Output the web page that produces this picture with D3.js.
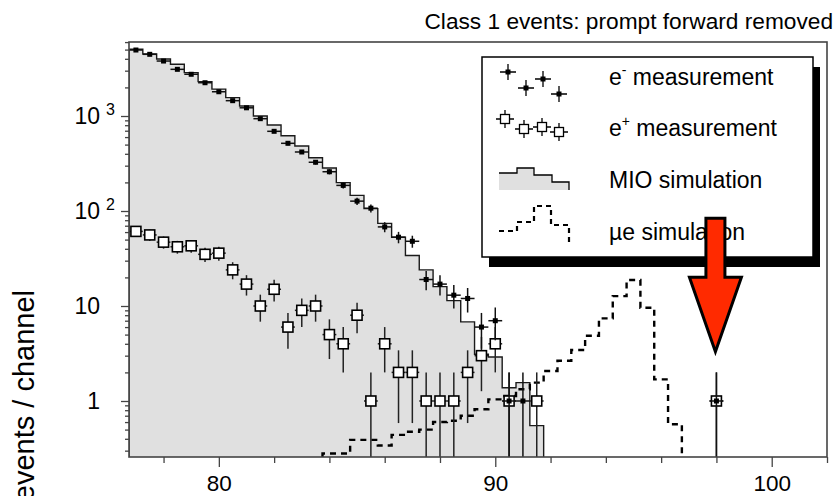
<!DOCTYPE html>
<html>
<head>
<meta charset="utf-8">
<script src="https://cdn.jsdelivr.net/npm/d3@7"></script>
<style>
  body { margin: 0; background: #fff; }
  svg { display: block; font-family: "Liberation Sans", Arial, sans-serif; }
</style>
</head>
<body>
<div id="chart"></div>
<script>
// channel centres (MeV), 0.5 MeV per channel
const eMinusE = [77.0, 77.5, 78.0, 78.5, 79.0, 79.5, 80.0, 80.5, 81.0, 81.5, 82.0, 82.5, 83.0, 83.5, 84.0,
  84.5, 85.0, 85.5, 86.0, 86.5, 87.0, 87.5, 88.0, 88.5, 89.0, 89.5, 90.0, 90.5, 91.0, 98.0]
const eMinusN = [4950, 4460, 3790, 3100, 2750, 2240, 1800, 1450, 1220, 937, 690, 516, 418, 326, 259,
  186, 127, 107, 68, 53, 48, 19, 17, 13, 12, 6, 7, 1, 1, 1]

const ePlusE = [77.0, 77.5, 78.0, 78.5, 79.0, 79.5, 80.0, 80.5, 81.0, 81.5, 82.0, 82.5, 83.0, 83.5, 84.0,
  84.5, 85.0, 85.5, 86.0, 86.5, 87.0, 87.5, 88.0, 88.5, 89.0, 89.5, 90.0, 90.5, 91.5, 98.0]
const ePlusN = [61, 56, 47, 42, 43, 35, 36, 24, 17, 10, 15, 6, 9, 10, 5,
  4, 8, 1, 4, 2, 2, 1, 1, 1, 2, 3, 4, 1, 1, 1]

const mioE = [77.0, 77.5, 78.0, 78.5, 79.0, 79.5, 80.0, 80.5, 81.0, 81.5, 82.0, 82.5, 83.0, 83.5, 84.0,
  84.5, 85.0, 85.5, 86.0, 86.5, 87.0, 87.5, 88.0, 88.5, 89.0, 89.5, 90.0, 90.5, 91.0, 91.5]
const mioN = [5050, 4500, 3980, 3500, 2860, 2300, 1920, 1560, 1275, 1000, 804, 620, 483, 364, 284,
  199, 146, 106, 74, 53, 34, 24, 16, 11.4, 6.8, 3.1, 2.9, 1.38, 1.56, 0.55]

const mueE = [84.0, 84.5, 85.0, 85.5, 86.0, 86.5, 87.0, 87.5, 88.0, 88.5, 89.0, 89.5, 90.0,
  90.5, 91.0, 91.5, 92.0, 92.5, 93.0, 93.5, 94.0, 94.5, 95.0, 95.5, 96.0, 96.5]
const mueN = [0.28, 0.28, 0.39, 0.39, 0.34, 0.44, 0.475, 0.50, 0.60, 0.62, 0.70, 0.82, 1.04,
  1.13, 1.33, 1.56, 2.07, 2.65, 3.44, 4.87, 7.4, 12.7, 18.8, 9.6, 1.69, 0.57]

const binWidth = 0.5
const xMajorTicks = [80, 90, 100]
const xMinorTicks = [78, 82, 84, 86, 88, 92, 94, 96, 98, 102]
const yMajorTicks = [1, 10, 100, 1000]
const yTickBase = ['1', '10', '10', '10']
const yTickExp = ['', '', '2', '3']
const legendLabels = [['e', '-', ' measurement'], ['e', '+', ' measurement'], ['MIO simulation', '', ''], ['\u00b5e simulation', '', '']]
const titleText = 'Class 1 events: prompt forward removed'
const yTitle = 'events / channel'
const signalE = 98.0 // channel marked by the arrow

const width = 836
const height = 496
const plot = { left: 129, right: 827, top: 42, bottom: 457 }

const svg = d3.select('#chart').append('svg')
  .attr('width', width)
  .attr('height', height)

const x = d3.scaleLinear().domain([76.75, 102]).range([plot.left, plot.right])
const y = d3.scaleLog().domain([0.2573, 6012]).range([plot.bottom, plot.top]).clamp(true)
const yMin = y.domain()[0]

svg.append('defs').append('clipPath').attr('id', 'clip')
  .append('rect')
  .attr('x', plot.left).attr('y', plot.top)
  .attr('width', plot.right - plot.left).attr('height', plot.bottom - plot.top)

// title
svg.append('text')
  .attr('x', 833).attr('y', 29)
  .attr('text-anchor', 'end')
  .attr('font-size', 22.7)
  .text(titleText)

// y title, cut at the bottom like the original
svg.append('text')
  .attr('transform', 'translate(34, 290) rotate(-90)')
  .attr('text-anchor', 'end')
  .attr('font-size', 29)
  .text(yTitle)

const g = svg.append('g').attr('clip-path', 'url(#clip)')

// step outline for contiguous channels
function stepPoints(centres, values) {
  const pts = [[centres[0] - binWidth / 2, yMin]]
  centres.forEach((c, i) => {
    pts.push([c - binWidth / 2, values[i]])
    pts.push([c + binWidth / 2, values[i]])
  })
  pts.push([centres[centres.length - 1] + binWidth / 2, yMin])
  return pts
}
const line = d3.line().x(d => x(d[0])).y(d => y(d[1]))

// MIO simulation
const mioPts = stepPoints(mioE, mioN)
g.append('path')
  .attr('d', line(mioPts) + 'Z')
  .attr('fill', '#e0e0e0')
  .attr('stroke', 'none')
g.append('path')
  .attr('d', line(mioPts))
  .attr('fill', 'none')
  .attr('stroke', '#1a1a1a')
  .attr('stroke-width', 1.4)

// mu-e simulation
g.append('path')
  .attr('d', line(stepPoints(mueE, mueN)))
  .attr('fill', 'none')
  .attr('stroke', '#000')
  .attr('stroke-width', 2.4)
  .attr('stroke-dasharray', '6,5')

// error bars
function errorBars(sel, es, ns, color) {
  const data = es.map((e, i) => ({ e, n: ns[i] }))
  sel.selectAll(null).data(data).enter().append('line')
    .attr('x1', d => x(d.e)).attr('x2', d => x(d.e))
    .attr('y1', d => y(d.n + Math.sqrt(d.n)))
    .attr('y2', d => y(Math.max(d.n - Math.sqrt(d.n), yMin)))
    .attr('stroke', color).attr('stroke-width', 1.5)
  sel.selectAll(null).data(data).enter().append('line')
    .attr('x1', d => x(d.e - binWidth / 2)).attr('x2', d => x(d.e + binWidth / 2))
    .attr('y1', d => y(d.n)).attr('y2', d => y(d.n))
    .attr('stroke', color).attr('stroke-width', 1.5)
  return data
}

const pos = errorBars(g.append('g'), ePlusE, ePlusN, '#222')
g.append('g').selectAll('rect').data(pos).enter().append('rect')
  .attr('x', d => x(d.e) - 5).attr('y', d => y(d.n) - 5)
  .attr('width', 10).attr('height', 10)
  .attr('fill', '#fff').attr('stroke', '#000').attr('stroke-width', 1.6)

const neg = errorBars(g.append('g'), eMinusE, eMinusN, '#111')
g.append('g').selectAll('rect').data(neg).enter().append('rect')
  .attr('x', d => x(d.e) - 2.5).attr('y', d => y(d.n) - 2.5)
  .attr('width', 5).attr('height', 5)
  .attr('fill', '#000')

// frame
svg.append('rect')
  .attr('x', plot.left).attr('y', plot.top)
  .attr('width', plot.right - plot.left).attr('height', plot.bottom - plot.top)
  .attr('fill', 'none').attr('stroke', '#444').attr('stroke-width', 1.6)

// x axis
svg.append('g')
  .attr('transform', `translate(0, ${plot.bottom})`)
  .call(d3.axisBottom(x).tickValues(xMinorTicks).tickSize(6).tickFormat(''))
const xMajor = svg.append('g')
  .attr('transform', `translate(0, ${plot.bottom})`)
  .call(d3.axisBottom(x).tickValues(xMajorTicks).tickSize(10).tickPadding(8).tickFormat(d3.format('d')))
xMajor.selectAll('text').attr('font-size', 22.5).attr('fill', '#000').attr('font-family', 'Liberation Sans, Arial, sans-serif')

// y axis
const yMinorTicks = []
for (const dec of [0.1, 1, 10, 100, 1000]) {
  for (let k = 2; k <= 9; k++) {
    const v = k * dec
    if (v >= yMin && v <= y.domain()[1]) yMinorTicks.push(v)
  }
}
svg.append('g')
  .attr('transform', `translate(${plot.left}, 0)`)
  .call(d3.axisLeft(y).tickValues(yMinorTicks).tickSize(4).tickFormat(''))
svg.append('g')
  .attr('transform', `translate(${plot.left}, 0)`)
  .call(d3.axisLeft(y).tickValues(yMajorTicks).tickSize(8).tickFormat(''))
svg.selectAll('.domain').remove()
svg.selectAll('.tick line').attr('stroke', '#444').attr('stroke-width', 1.3)

const yLabels = svg.append('g')
yMajorTicks.forEach((v, i) => {
  yLabels.append('text')
    .attr('x', 100).attr('y', y(v))
    .attr('dy', '0.35em')
    .attr('text-anchor', 'end')
    .attr('font-size', 23)
    .text(yTickBase[i])
  if (yTickExp[i]) {
    yLabels.append('text')
      .attr('x', 106).attr('y', y(v) - 1)
      .attr('font-size', 16)
      .text(yTickExp[i])
  }
})

// legend
const legend = svg.append('g').attr('transform', 'translate(482, 57)')
legend.append('rect')
  .attr('x', 7).attr('y', 10).attr('width', 331).attr('height', 200)
  .attr('fill', '#000')
legend.append('rect')
  .attr('width', 331).attr('height', 200)
  .attr('fill', '#fff').attr('stroke', '#000').attr('stroke-width', 1.5)

const rowY = [28, 79, 131, 183]
legendLabels.forEach((lab, i) => {
  const t = legend.append('text')
    .attr('x', 127).attr('y', rowY[i])
    .attr('font-size', 23)
  t.append('tspan').text(lab[0])
  if (lab[1]) {
    t.append('tspan').attr('dy', -10).attr('font-size', 14).text(lab[1])
    t.append('tspan').attr('dy', 10).text(lab[2])
  }
})

const crossNeg = [[26, 15], [44, 31], [61, 22], [77, 37]]
crossNeg.forEach(([cx, cy]) => {
  legend.append('path')
    .attr('d', `M${cx - 8},${cy}H${cx + 8}M${cx},${cy - 8}V${cy + 8}`)
    .attr('stroke', '#000').attr('stroke-width', 1.3)
  legend.append('rect')
    .attr('x', cx - 2.5).attr('y', cy - 2.5).attr('width', 5).attr('height', 5)
    .attr('fill', '#000')
})
const crossPos = [[23, 62], [42, 72], [60, 70], [77, 75]]
crossPos.forEach(([cx, cy]) => {
  legend.append('path')
    .attr('d', `M${cx - 9},${cy}H${cx + 9}M${cx},${cy - 9}V${cy + 9}`)
    .attr('stroke', '#000').attr('stroke-width', 1.3)
  legend.append('rect')
    .attr('x', cx - 4.5).attr('y', cy - 4.5).attr('width', 9).attr('height', 9)
    .attr('fill', '#fff').attr('stroke', '#000').attr('stroke-width', 1.3)
})
legend.append('path').attr('d', 'M17,133V116H35V111H52V118H70V125H87V133Z').attr('fill', '#e0e0e0')
legend.append('path').attr('d', 'M17,116H35V111H52V118H70V125H87V133')
  .attr('fill', 'none').attr('stroke', '#000').attr('stroke-width', 1.3)
legend.append('path').attr('d', 'M17,174H35V165H52V149H69V168H87V185')
  .attr('fill', 'none').attr('stroke', '#000').attr('stroke-width', 2.2)
  .attr('stroke-dasharray', '5,4')

// arrow pointing at the candidate channel
const tipX = x(signalE)
const tipY = y(3.3)
svg.append('path')
  .attr('transform', `translate(${tipX - 1}, ${tipY})`)
  .attr('d', 'M-9.5,-133.5H9.5V-74.5H26L0,0L-26,-74.5H-9.5Z')
  .attr('fill', '#ff2a00')
  .attr('stroke', '#000')
  .attr('stroke-width', 3)
</script>
</body>
</html>
